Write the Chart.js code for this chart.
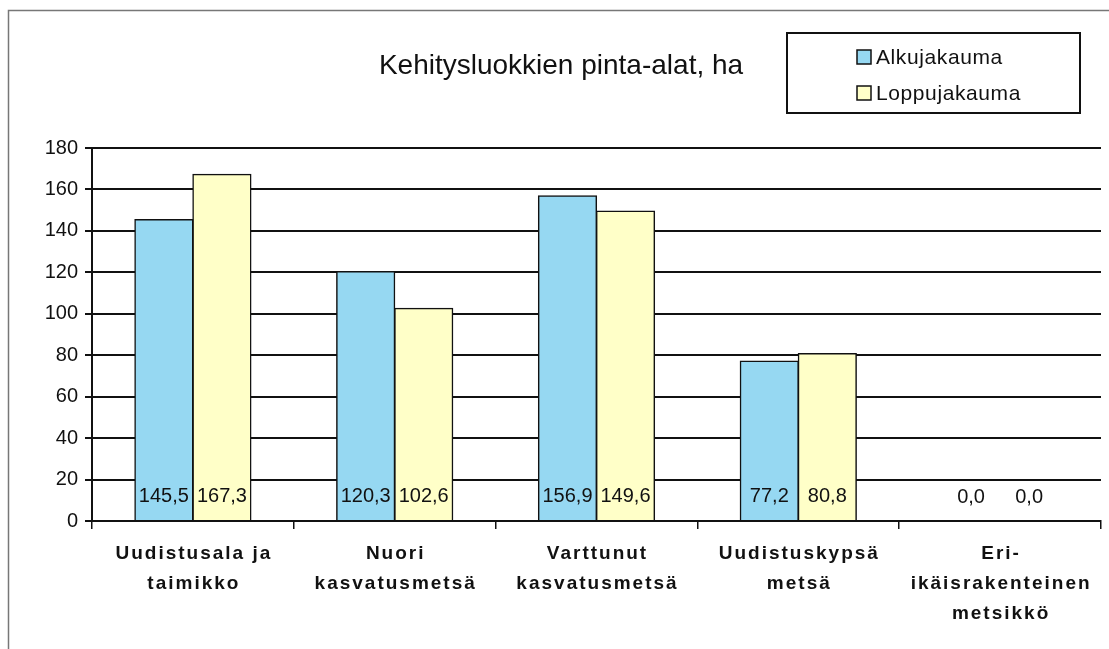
<!DOCTYPE html>
<html>
<head>
<meta charset="utf-8">
<style>
  html, body { margin: 0; padding: 0; background: #fff; }
  #wrap { width: 1109px; height: 649px; }
</style>
</head>
<body>
<div id="wrap">
  <canvas id="myChart" width="1109" height="649"></canvas>
</div>

<script src="https://cdn.jsdelivr.net/npm/chart.js"></script>
<script>
  // data
  const categories = [
    ['Uudistusala ja', 'taimikko'],
    ['Nuori', 'kasvatusmetsä'],
    ['Varttunut', 'kasvatusmetsä'],
    ['Uudistuskypsä', 'metsä'],
    ['Eri-', 'ikäisrakenteinen', 'metsikkö']
  ];
  const alkujakauma = [145.5, 120.3, 156.9, 77.2, 0.0];
  const loppujakauma = [167.3, 102.6, 149.6, 80.8, 0.0];
  const seriesNames = ['Alkujakauma', 'Loppujakauma'];
  const chartTitle = 'Kehitysluokkien pinta-alat, ha';

  const blue = 'rgb(150, 216, 242)';
  const yellow = 'rgb(255, 255, 200)';
  const ink = '#111';

  function fmt(v) {
    return v.toFixed(1).replace('.', ',');
  }

  // title, legend box, frame, value labels and category labels
  const decorations = {
    id: 'decorations',
    beforeDraw(chart) {
      const c = chart.ctx;
      c.save();
      c.fillStyle = '#fff';
      c.fillRect(0, 0, chart.width, chart.height);
      c.strokeStyle = '#777';
      c.lineWidth = 1.5;
      c.strokeRect(8.5, 10.5, 1130, 660);
      c.restore();
    },
    afterDraw(chart) {
      const c = chart.ctx;
      c.save();

      // title
      c.fillStyle = ink;
      c.font = '28px "Liberation Sans", Arial, sans-serif';
      c.textAlign = 'center';
      c.textBaseline = 'middle';
      c.fillText(chartTitle, 561, 66);

      // legend
      c.strokeStyle = ink;
      c.lineWidth = 2;
      c.strokeRect(787, 33, 293, 80);
      const fills = [blue, yellow];
      const rows = [57, 93];
      c.font = '21px "Liberation Sans", Arial, sans-serif';
      c.textAlign = 'left';
      c.letterSpacing = '0.6px';
      for (let i = 0; i < 2; i++) {
        c.fillStyle = fills[i];
        c.fillRect(857, rows[i] - 7, 14, 14);
        c.lineWidth = 1.5;
        c.strokeRect(857, rows[i] - 7, 14, 14);
        c.fillStyle = ink;
        c.fillText(seriesNames[i], 876, rows[i] + 1);
      }

      // value labels inside the bars
      c.letterSpacing = '0px';
      c.font = '20px "Liberation Sans", Arial, sans-serif';
      c.textAlign = 'center';
      chart.data.datasets.forEach((ds, di) => {
        chart.getDatasetMeta(di).data.forEach((bar, i) => {
          c.fillText(fmt(ds.data[i]), bar.x, bar.base - 24);
        });
      });

      // category labels
      const xs = chart.scales.x;
      c.font = 'bold 19px "Liberation Sans", Arial, sans-serif';
      c.letterSpacing = '2px';
      categories.forEach((lines, i) => {
        const x = xs.getPixelForValue(i);
        lines.forEach((t, k) => {
          c.fillText(t, x + 1, xs.top + 33 + k * 30);
        });
      });
      c.restore();
    }
  };

  const ctx = document.getElementById('myChart');
  const myChart = new Chart(ctx, {
    type: 'bar',
    data: {
      labels: categories,
      datasets: [
        { label: seriesNames[0], data: alkujakauma, backgroundColor: blue,
          borderColor: ink, borderWidth: 1.5, inflateAmount: 0.6 },
        { label: seriesNames[1], data: loppujakauma, backgroundColor: yellow,
          borderColor: ink, borderWidth: 1.5, inflateAmount: 0.6 }
      ]
    },
    options: {
      responsive: false,
      animation: false,
      devicePixelRatio: 1,
      layout: { padding: { top: 148, right: 8, left: 0, bottom: 0 } },
      datasets: { bar: { categoryPercentage: 0.575, barPercentage: 1.0 } },
      plugins: {
        legend: { display: false },
        title: { display: false },
        tooltip: { enabled: false }
      },
      scales: {
        x: {
          afterFit: (s) => { s.height = 128; },
          ticks: { display: false },
          grid: { display: true, drawOnChartArea: false, offset: true,
                  tickLength: 8, color: ink, lineWidth: 1.5 },
          border: { display: true, color: ink, width: 2 }
        },
        y: {
          min: 0,
          max: 180,
          afterFit: (s) => { s.width = 92; },
          ticks: { stepSize: 20, padding: 7, color: ink,
                   font: { size: 20, family: '"Liberation Sans", Arial, sans-serif' } },
          grid: { color: ink, lineWidth: 2, tickLength: 7 },
          border: { display: true, color: ink, width: 2 }
        }
      }
    },
    plugins: [decorations]
  });
</script>
</body>
</html>
